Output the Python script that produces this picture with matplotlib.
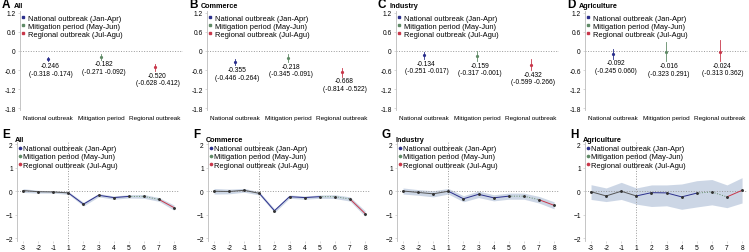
import matplotlib.pyplot as plt
from matplotlib.lines import Line2D

plt.rcParams['font.family'] = ['Liberation Sans', 'DejaVu Sans']

# ---- data ----
sectors = ["All", "Commerce", "Industry", "Agriculture"]
top_letters = ["A", "B", "C", "D"]
bottom_letters = ["E", "F", "G", "H"]
periods = ["National outbreak", "Mitigation period", "Regional outbreak"]
legend_labels = ["National outbreak (Jan-Apr)", "Mitigation period (May-Jun)", "Regional outbreak (Jul-Agu)"]

est = {
    "All": [-0.246, -0.182, -0.520],
    "Commerce": [-0.355, -0.218, -0.668],
    "Industry": [-0.134, -0.159, -0.432],
    "Agriculture": [-0.092, -0.016, -0.024],
}
ci_lo = {
    "All": [-0.318, -0.271, -0.628],
    "Commerce": [-0.446, -0.345, -0.814],
    "Industry": [-0.251, -0.317, -0.599],
    "Agriculture": [-0.245, -0.323, -0.313],
}
ci_hi = {
    "All": [-0.174, -0.092, -0.412],
    "Commerce": [-0.264, -0.091, -0.522],
    "Industry": [-0.017, -0.001, -0.266],
    "Agriculture": [0.060, 0.291, 0.362],
}

months = ["-3", "-2", "-1", "1", "2", "3", "4", "5", "6", "7", "8"]
month_est = {
    "All": [0.03, -0.02, -0.03, -0.07, -0.55, -0.17, -0.27, -0.22, -0.22, -0.35, -0.70],
    "Commerce": [0.00, -0.01, 0.04, -0.09, -0.83, -0.23, -0.27, -0.23, -0.23, -0.33, -0.95],
    "Industry": [0.01, -0.05, -0.11, 0.00, -0.32, -0.13, -0.28, -0.21, -0.21, -0.36, -0.60],
    "Agriculture": [-0.02, -0.20, 0.00, -0.20, -0.06, -0.07, -0.24, -0.08, -0.03, -0.24, 0.04],
}
month_lo = {
    "All": [-0.05, -0.08, -0.08, -0.13, -0.63, -0.24, -0.34, -0.29, -0.30, -0.43, -0.81],
    "Commerce": [-0.12, -0.11, -0.04, -0.16, -0.91, -0.30, -0.34, -0.30, -0.31, -0.42, -1.07],
    "Industry": [-0.12, -0.17, -0.24, -0.12, -0.45, -0.27, -0.41, -0.34, -0.34, -0.50, -0.75],
    "Agriculture": [-0.35, -0.44, -0.35, -0.55, -0.65, -0.62, -0.77, -0.67, -0.58, -0.70, -0.50],
}
month_hi = {
    "All": [0.11, 0.04, 0.02, -0.01, -0.47, -0.10, -0.20, -0.15, -0.14, -0.27, -0.59],
    "Commerce": [0.12, 0.09, 0.12, -0.02, -0.75, -0.16, -0.20, -0.16, -0.15, -0.24, -0.83],
    "Industry": [0.14, 0.07, 0.02, 0.12, -0.19, 0.01, -0.15, -0.08, -0.08, -0.22, -0.45],
    "Agriculture": [0.28, 0.14, 0.38, 0.14, 0.27, 0.27, 0.31, 0.45, 0.50, 0.27, 0.58],
}

C_NAT = "#2b2f8c"
C_MIT = "#5f8a66"
C_REG = "#c8374a"
C_PRE = "#555555"
C_BAND = "#c7d2e3"
period_colors = [C_NAT, C_MIT, C_REG]

W, H = 749, 253
FS = 4.8

fig = plt.figure(figsize=(W / 100, H / 100), dpi=100)


def style_axes(ax):
    for s in ["top", "right", "bottom"]:
        ax.spines[s].set_visible(False)
    ax.spines["left"].set_color("#bbbbbb")
    ax.spines["left"].set_linewidth(0.6)
    ax.tick_params(axis="both", labelsize=FS, length=1.5, width=0.4, color="#bbbbbb", pad=1.5)


def legend(ax, tight):
    handles = [Line2D([], [], marker="s" if not tight else "o", color=c, linestyle="none", markersize=1.6)
               for c in period_colors]
    ax.legend(handles, legend_labels, loc="upper left", bbox_to_anchor=(-0.01, 1.0), frameon=False,
              fontsize=5.4, handlelength=0.5, handletextpad=0.15 if tight else 0.4,
              labelspacing=0.12, borderpad=0.2, borderaxespad=0.2)


# ---- top row ----
top_lefts = [20, 207, 396, 585]
for i, sec in enumerate(sectors):
    ax = fig.add_axes([top_lefts[i] / W, (H - 110.6) / H, 163 / W, 98.2 / H])
    style_axes(ax)
    ax.set_xlim(-0.52, 2.53)
    ax.set_ylim(-1.85, 1.25)
    ax.set_yticks([1.2, 0.6, 0, -0.6, -1.2, -1.8])
    ax.set_yticklabels(["1.2", "0.6", "0", "-0.6", "-1.2", "-1.8"])
    ax.set_xticks([0, 1, 2])
    ax.set_xticklabels(periods, fontsize=4.6)
    ax.tick_params(axis="x", length=0, pad=4)
    ax.axhline(0, color="#999999", linestyle=":", linewidth=0.7)
    for j in range(3):
        e, lo, hi = est[sec][j], ci_lo[sec][j], ci_hi[sec][j]
        ax.plot([j, j], [lo, hi], color=period_colors[j], linewidth=0.6)
        ax.plot(j, e, marker="o", color=period_colors[j], markersize=1.3)
        ax.annotate(f"{e:.3f}\n({lo:.3f} {hi:.3f})", (j, lo), xytext=(2, -0.5), textcoords="offset points",
                    ha="center", va="top", fontsize=FS, linespacing=1.15)
    legend(ax, False)
    fig.text((top_lefts[i] - 18) / W, 1 - 5 / H, top_letters[i], fontsize=8.5, fontweight="bold", va="center")
    fig.text((top_lefts[i] - 6) / W, 1 - 6 / H, sec, fontsize=5.2, fontweight="bold", va="center")

# ---- bottom row ----
bot_lefts = [17, 208, 397, 585]
x = list(range(len(months)))
segments = [(0, 3, C_PRE, "-"), (3, 7, C_NAT, "-"), (7, 9, C_MIT, ":"), (9, 10, C_REG, "-")]
for i, sec in enumerate(sectors):
    ax = fig.add_axes([bot_lefts[i] / W, (H - 241.5) / H, 161.6 / W, 98.5 / H])
    style_axes(ax)
    ax.set_xlim(-0.4, 10.3)
    ax.set_ylim(-2.1, 2.1)
    ax.set_yticks([2, 1, 0, -1, -2])
    ax.set_xticks(x)
    ax.set_xticklabels(months)
    ax.tick_params(axis="x", pad=1.2)
    ax.axhline(0, color="#999999", linestyle=":", linewidth=0.7)
    ax.axvline(3, color="#999999", linestyle=":", linewidth=0.7)
    ax.fill_between(x, month_lo[sec], month_hi[sec], color=C_BAND, linewidth=0, alpha=0.9)
    v = month_est[sec]
    for a, b, c, ls in segments:
        ax.plot(x[a:b + 1], v[a:b + 1], color=c, linestyle=ls, linewidth=0.7)
    ax.plot(x, v, linestyle="none", marker="o", color="#333333", markersize=1.1)
    legend(ax, True)
    fig.text((bot_lefts[i] - 15) / W, 1 - 135 / H, bottom_letters[i], fontsize=8.5, fontweight="bold", va="center")
    fig.text((bot_lefts[i] - 2) / W, 1 - 140 / H, sec, fontsize=5.2, fontweight="bold", va="center")

fig.savefig("out.png", dpi=100)
